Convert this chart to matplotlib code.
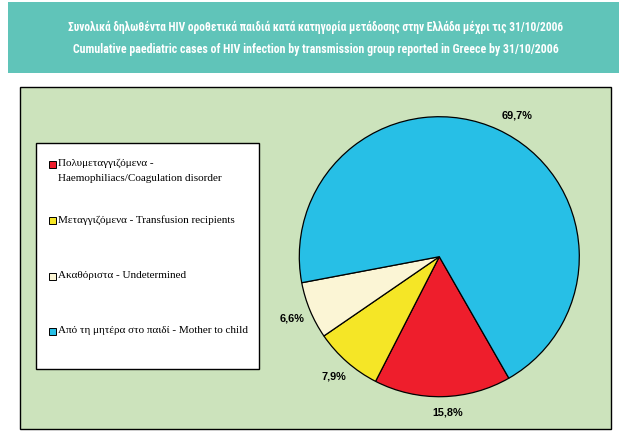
import matplotlib.pyplot as plt
from matplotlib import font_manager as fm
from matplotlib.ft2font import FT2Font
from matplotlib.patches import Rectangle

W, H = 619, 445

title_gr = 'Συνολικά δηλωθέντα HIV οροθετικά παιδιά κατά κατηγορία μετάδοσης στην Ελλάδα μέχρι τις 31/10/2006'
title_en = 'Cumulative paediatric cases of HIV infection by transmission group reported in Greece by 31/10/2006'

groups = ['Πολυμεταγγιζόμενα - \nHaemophiliacs/Coagulation disorder',
          'Μεταγγιζόμενα - Transfusion recipients',
          'Ακαθόριστα - Undetermined',
          'Από τη μητέρα στο παιδί - Mother to child']
shares = [15.8, 7.9, 6.6, 69.7]
colors = ['#EE1E2C', '#F5E626', '#FBF5D5', '#27BFE6']


def fx(x):
    return x / W


def fy(y):
    return 1 - y / H


def has_greek(path):
    try:
        f = FT2Font(path)
        return all(f.get_char_index(ord(c)) for c in 'λάωθ')
    except Exception:
        return False


# pick a bold condensed face that also carries Greek for the header
prefer = ['Roboto Condensed', 'Liberation Sans Narrow', 'Open Sans Condensed',
          'Noto Sans Condensed', 'Noto Sans', 'Arial Narrow']
cands = [f for f in fm.fontManager.ttflist
         if f.stretch in ('condensed', 'semi-condensed', 'extra-condensed')
         and f.style == 'normal' and has_greek(f.fname)]
cands.sort(key=lambda f: (prefer.index(f.name) if f.name in prefer else 99,
                          abs((f.weight if isinstance(f.weight, int) else 700) - 700)))
head_font = dict(fname=cands[0].fname) if cands else dict(family='DejaVu Sans', weight='bold')

fig = plt.figure(figsize=(W / 100, H / 100), dpi=100)
fig.patch.set_facecolor('white')

# header band
fig.patches.append(Rectangle((fx(8), fy(72.5)), fx(619) - fx(8), fy(2) - fy(72.5),
                             transform=fig.transFigure, facecolor='#60C4B9',
                             edgecolor='none', zorder=0))
hprop = fm.FontProperties(**head_font)
t1 = fig.text(fx(316), fy(27), title_gr, fontproperties=hprop, color='white',
              ha='center', va='center')
t2 = fig.text(fx(316), fy(50), title_en, fontproperties=hprop.copy(), color='white',
              ha='center', va='center')
# scale header lines to the width they take in the reference
rend = fig.canvas.get_renderer()
for t, target in ((t1, 500), (t2, 487)):
    t.set_fontsize(10)
    w = t.get_window_extent(rend).width
    t.set_fontsize(10 * target / w)

# green chart area
fig.patches.append(Rectangle((fx(19.5), fy(429.3)), fx(610.7) - fx(19.5), fy(87.3) - fy(429.3),
                             transform=fig.transFigure, facecolor='#CCE3BC',
                             edgecolor='black', linewidth=1.0, zorder=0))

# legend box
fig.patches.append(Rectangle((fx(36), fy(368.7)), fx(258.7) - fx(36), fy(143.3) - fy(368.7),
                             transform=fig.transFigure, facecolor='white',
                             edgecolor='black', linewidth=1.0, zorder=1))
rows_y = [164.5, 220.7, 276.7, 331.7]
for lab, col, yy in zip(groups, colors, rows_y):
    fig.patches.append(Rectangle((fx(48.5), fy(yy + 3.5)), fx(7), fy(0) - fy(7),
                                 transform=fig.transFigure, facecolor=col,
                                 edgecolor='black', linewidth=0.7, zorder=2))
    fig.text(fx(58.5), fy(yy - 5.8), lab, family=['Liberation Serif', 'DejaVu Serif'],
             fontsize=8.0, ha='left', va='top', linespacing=1.85, zorder=3)

# pie
cx, cy, R, half = 439.3, 256.7, 140, 170
ax = fig.add_axes([fx(cx - half), fy(cy + half), fx(2 * half), fy(0) - fy(2 * half)])
ax.set_zorder(5)
wedges, _, autotexts = ax.pie(shares, colors=colors, startangle=-60.2, counterclock=False,
                              autopct=lambda p: f'{p:.1f}'.replace('.', ',') + '%',
                              pctdistance=1.14,
                              wedgeprops=dict(edgecolor='black', linewidth=0.9))
# small nudges of the label positions (in radius units)
nudges = [(0.034, 0.03), (0, 0), (0, 0), (0.08, -0.03)]
for t, (dx, dy) in zip(autotexts, nudges):
    x, y = t.get_position()
    t.set_position((x + dx, y + dy))
    t.set_fontsize(7.8)
    t.set_fontweight('bold')
    t.set_family(['Liberation Sans', 'DejaVu Sans'])
lim = half / R
ax.set_xlim(-lim, lim)
ax.set_ylim(-lim, lim)
ax.set_aspect('equal')
ax.axis('off')

fig.savefig('out.png', dpi=100)
